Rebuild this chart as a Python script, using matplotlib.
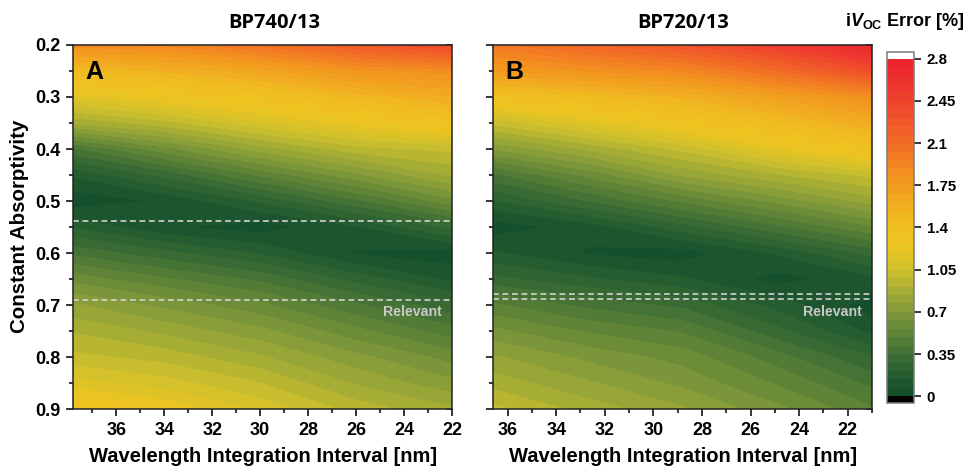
import numpy as np
import matplotlib
matplotlib.use("Agg")
import matplotlib.pyplot as plt
from matplotlib.colors import LinearSegmentedColormap, BoundaryNorm
import matplotlib.transforms as mtransforms
from matplotlib.ticker import MultipleLocator

plt.rcParams['font.family'] = ['Liberation Sans', 'DejaVu Sans']
plt.rcParams['mathtext.fontset'] = 'custom'
plt.rcParams['mathtext.rm'] = 'Liberation Sans:bold'
plt.rcParams['mathtext.it'] = 'Liberation Sans:italic:bold'
plt.rcParams['mathtext.bf'] = 'Liberation Sans:bold'

# ---------------- data ----------------
absorptivity = [0.20, 0.25, 0.30, 0.35, 0.40, 0.45, 0.50, 0.55,
                0.60, 0.65, 0.70, 0.75, 0.80, 0.85, 0.90]

# Panel A: BP740/13
wl_A = [37.8, 34, 30, 26, 22]
err_A_378 = [1.85, 1.45, 1.15, 0.85, 0.40, 0.15, 0.02, 0.20, 0.40, 0.60, 0.78, 0.90, 1.00, 1.15, 1.35]
err_A_34 = [1.90, 1.55, 1.25, 0.95, 0.60, 0.30, 0.08, 0.08, 0.30, 0.50, 0.68, 0.82, 0.95, 1.08, 1.25]
err_A_30 = [2.05, 1.65, 1.35, 1.10, 0.80, 0.50, 0.22, 0.03, 0.20, 0.40, 0.58, 0.72, 0.85, 0.98, 1.10]
err_A_26 = [2.25, 1.80, 1.50, 1.22, 0.95, 0.68, 0.40, 0.13, 0.06, 0.25, 0.43, 0.58, 0.72, 0.83, 0.95]
err_A_22 = [2.40, 1.85, 1.60, 1.35, 1.00, 0.85, 0.60, 0.30, 0.03, 0.12, 0.30, 0.45, 0.60, 0.72, 0.85]

# Panel B: BP720/13
wl_B = [36.6, 32.7, 28.8, 24.9, 21.0]
err_B_366 = [2.00, 1.75, 1.35, 1.00, 0.70, 0.40, 0.20, 0.03, 0.15, 0.30, 0.50, 0.65, 0.78, 0.88, 1.00]
err_B_327 = [2.15, 1.82, 1.45, 1.15, 0.85, 0.58, 0.35, 0.10, 0.06, 0.22, 0.40, 0.55, 0.68, 0.78, 0.88]
err_B_288 = [2.30, 1.90, 1.55, 1.30, 1.00, 0.78, 0.50, 0.25, 0.03, 0.15, 0.33, 0.48, 0.60, 0.68, 0.78]
err_B_249 = [2.50, 2.10, 1.70, 1.45, 1.18, 0.90, 0.65, 0.40, 0.15, 0.04, 0.18, 0.30, 0.45, 0.55, 0.65]
err_B_21 = [2.75, 2.35, 1.85, 1.60, 1.35, 1.00, 0.80, 0.55, 0.30, 0.12, 0.03, 0.12, 0.28, 0.40, 0.50]

relevant_A = [0.538, 0.690]
relevant_B = [0.679, 0.688]

titles = ["BP740/13", "BP720/13"]
panel_letters = ["A", "B"]
cbar_ticks = [0, 0.35, 0.7, 1.05, 1.4, 1.75, 2.1, 2.45, 2.8]
cbar_ticklabels = ["0", "0.35", "0.7", "1.05", "1.4", "1.75", "2.1", "2.45", "2.8"]
x_ticks = [36, 34, 32, 30, 28, 26, 24, 22]
y_ticks = [0.2, 0.3, 0.4, 0.5, 0.6, 0.7, 0.8, 0.9]
y_ticklabels = ["0.2", "0.3", "0.4", "0.5", "0.6", "0.7", "0.8", "0.9"]

# ---------------- colormap ----------------
vmax = 2.8
stops = [(0.0, '#0b4a2a'), (0.35, '#3a6b34'), (0.7, '#7f983a'), (0.9, '#aab034'),
         (1.05, '#cfc02c'), (1.25, '#eec520'), (1.45, '#efbc20'), (1.75, '#f39a1f'),
         (2.1, '#f26a26'), (2.45, '#ee3f2e'), (2.8, '#ec1c2e')]
cmap = LinearSegmentedColormap.from_list('err', [(v / vmax, c) for v, c in stops])
cmap.set_under('black')
cmap.set_over('white')
levels = np.linspace(0, vmax, 41)
norm = BoundaryNorm(levels, cmap.N, extend='both')

W, H = 967, 469
fig = plt.figure(figsize=(W / 100, H / 100), dpi=100)

def fx(px):
    return px / W

def fy(py):
    return 1 - py / H

axA = fig.add_axes([fx(73), fy(409), fx(452) - fx(73), fy(45) - fy(409)])
axB = fig.add_axes([fx(493), fy(409), fx(872) - fx(493), fy(45) - fy(409)])

Z_A = np.array([err_A_378, err_A_34, err_A_30, err_A_26, err_A_22]).T
Z_B = np.array([err_B_366, err_B_327, err_B_288, err_B_249, err_B_21]).T

TICK_FS = 13
panels = [(axA, wl_A, Z_A, relevant_A), (axB, wl_B, Z_B, relevant_B)]
cs = None
for i, (ax, wl, Z, rel) in enumerate(panels):
    cs = ax.contourf(wl, absorptivity, Z, levels=levels, cmap=cmap, norm=norm, extend='both')
    ax.set_xlim(wl[0], wl[-1])
    for y in rel:
        ax.axhline(y, color='#d2d2d2', lw=1.2, ls=(0, (3.5, 2.2)))
    trans = mtransforms.blended_transform_factory(ax.transAxes, ax.transData)
    ax.text(0.972, 0.713, 'Relevant', transform=trans, ha='right', va='center',
            color='#c8c8c8', fontsize=10.2, fontweight='bold')
    ax.text(0.033, 0.958, panel_letters[i], transform=ax.transAxes, ha='left', va='top',
            fontsize=18, fontweight='bold', color='black')
    ax.set_xticks(x_ticks)
    ax.set_xticklabels([str(t) for t in x_ticks], fontsize=TICK_FS, fontweight='bold')
    ax.xaxis.set_minor_locator(MultipleLocator(1))
    ax.set_yticks(y_ticks)
    ax.yaxis.set_minor_locator(MultipleLocator(0.05))
    ax.set_ylim(0.9, 0.2)
    ax.tick_params(axis='x', which='major', direction='out', length=5, width=1.1, top=False, pad=4)
    ax.tick_params(axis='x', which='minor', direction='out', length=3, width=1.1, top=False)
    ax.tick_params(axis='y', which='major', direction='out', length=5, width=1.1, left=True, right=False, pad=4)
    ax.tick_params(axis='y', which='minor', direction='out', length=3, width=1.1, left=True, right=False)
    # right-side inward ticks
    sec = ax.secondary_yaxis('right')
    sec.yaxis.set_major_locator(MultipleLocator(0.05))
    sec.tick_params(direction='in', length=4, width=1.1, labelright=False)
    sec.spines['right'].set_visible(False)
    for s in ax.spines.values():
        s.set_linewidth(1.1)
        s.set_color('#222222')
    if i == 0:
        ax.set_yticklabels(y_ticklabels, fontsize=TICK_FS, fontweight='bold')
    else:
        ax.tick_params(axis='y', labelleft=False)

# titles and labels
fig.text(fx(274), fy(23), titles[0], ha='center', va='center', fontsize=14.5,
         fontweight='bold', family=['Open Sans', 'DejaVu Sans'])
fig.text(fx(683), fy(23), titles[1], ha='center', va='center', fontsize=14.5,
         fontweight='bold', family=['Open Sans', 'DejaVu Sans'])
fig.text(fx(263), fy(456), 'Wavelength Integration Interval [nm]', ha='center', va='center',
         fontsize=14.5, fontweight='bold')
fig.text(fx(683), fy(456), 'Wavelength Integration Interval [nm]', ha='center', va='center',
         fontsize=14.5, fontweight='bold')
fig.text(fx(20), fy(226), 'Constant Absorptivity', ha='center', va='center', rotation=90,
         fontsize=14.8, fontweight='bold')

# colorbar
cax = fig.add_axes([fx(887), fy(402.7), fx(914) - fx(887), fy(52.3) - fy(402.7)])
cb = fig.colorbar(cs, cax=cax, ticks=cbar_ticks, extendrect=True, extendfrac=0.019, drawedges=False)
cb.set_ticklabels(cbar_ticklabels)
for lab in cax.get_yticklabels():
    lab.set_fontweight('bold')
    lab.set_fontsize(10.8)
cax.tick_params(direction='out', length=5, width=1.1, pad=4)
cax.minorticks_off()
cb.outline.set_edgecolor('#7a7a7a')
cb.outline.set_linewidth(1.1)
fig.text(fx(964), fy(21), r'i$\mathit{V}_{\mathbf{OC}}$ Error [%]', ha='right', va='center',
         fontsize=13, fontweight='bold')

fig.savefig('out.png', dpi=100)
